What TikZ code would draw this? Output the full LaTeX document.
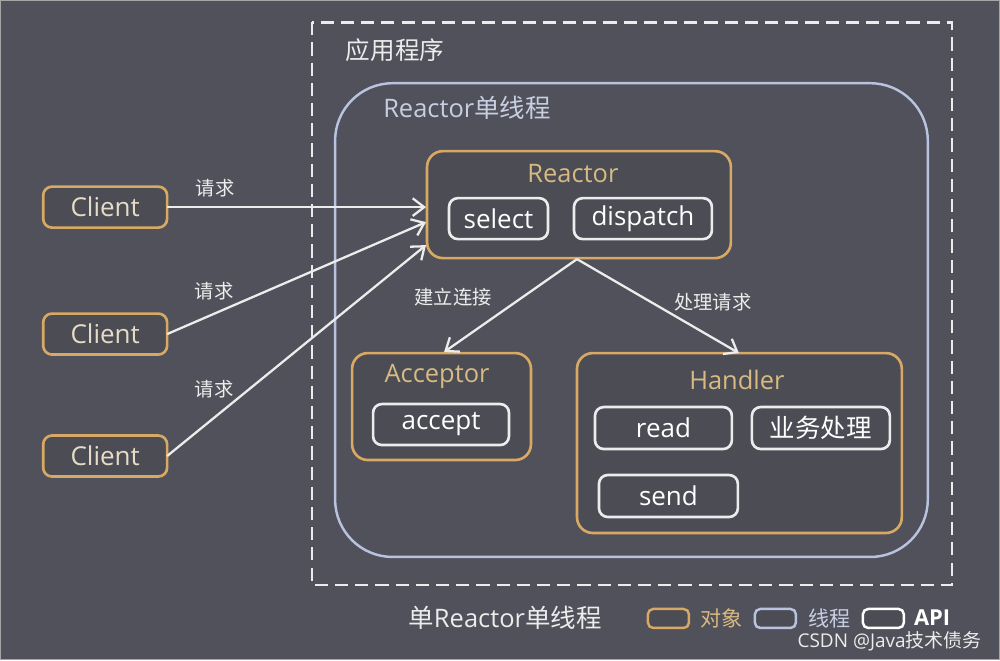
\documentclass[tikz,border=0pt]{standalone}
\usepackage{fontspec}
\setmainfont{Open Sans}
\newfontfamily\cjk{Noto Sans CJK SC}
\usetikzlibrary{arrows.meta}
\definecolor{bg}{HTML}{50515A}
\definecolor{boxfill}{HTML}{4B4C54}
\definecolor{orange}{HTML}{D8A964}
\definecolor{tan}{HTML}{D8BA82}
\definecolor{clienttext}{HTML}{E6DCC6}
\definecolor{thread}{HTML}{B9C3E0}
\definecolor{threadtext}{HTML}{C8CEE2}
\definecolor{soft}{HTML}{ECECEC}
\tikzset{
  objbox/.style={draw=orange, fill=boxfill, line width=1.5pt, rounded corners=9pt, outer sep=0pt, inner sep=0pt},
  apibox/.style={draw=soft, fill=boxfill, line width=1.5pt, rounded corners=5pt, outer sep=0pt, inner sep=0pt,
     text=white, font=\fontsize{14.8}{16}\selectfont},
  clientbox/.style={objbox, rounded corners=5pt, text=clienttext, font=\fontsize{14.8}{16}\selectfont},
  titletext/.style={text=tan, font=\fontsize{14.5}{16}\selectfont},
  conn/.style={draw=soft, line width=1.3pt, -{Straight Barb[length=6.5pt,width=10pt,line width=1.3pt]}},
  lbl/.style={text=soft, font=\cjk\fontsize{11}{13}\selectfont},
  legbox/.style={line width=1.4pt, rounded corners=3pt, minimum width=0.82cm, minimum height=0.38cm, inner sep=0pt, fill=boxfill},
  legtext/.style={font=\cjk\fontsize{12}{14}\selectfont}
}
\begin{document}
\begin{tikzpicture}[x=0.02cm,y=-0.02cm]
\fill[bg] (0,0) rectangle (1000,660);
\draw[gray!70, line width=0.8pt] (0.5,0.5) rectangle (999.5,659.5);
\useasboundingbox (0,0) rectangle (1000,660);

% application dashed frame
\draw[soft, line width=1.5pt, dash pattern=on 7.5pt off 4pt] (312,22) rectangle (952,585);
\node[text=soft, font=\cjk\fontsize{14}{16}\selectfont] (applbl) at (395,50) {应用程序};

% thread box
\node[draw=thread, line width=1.4pt, rounded corners=1.15cm, minimum width=11.86cm, minimum height=9.48cm] (thread) at (631.5,320) {};
\node[text=threadtext, font=\fontsize{14.5}{16}\selectfont, anchor=west] (threadlbl) at (377,108) {Reactor{\cjk 单线程}};

% reactor
\node[objbox, minimum width=6.08cm, minimum height=2.14cm] (reactor) at (579,204.5) {};
\node[titletext] (reactorlbl) at (573,173) {Reactor};
\node[apibox, minimum width=1.98cm, minimum height=0.82cm] (select) at (498.5,218.5) {select};
\node[apibox, minimum width=2.76cm, minimum height=0.82cm] (dispatch) at (643,218.5) {dispatch};

% acceptor
\node[objbox, minimum width=3.58cm, minimum height=2.14cm] (acceptor) at (441.5,406.5) {};
\node[titletext] (acceptorlbl) at (437,376) {Acceptor};
\node[apibox, minimum width=2.72cm, minimum height=0.82cm] (accept) at (441,424.5) {accept};

% handler
\node[objbox, minimum width=6.5cm, minimum height=3.6cm] (handler) at (739.5,443) {};
\node[titletext] (handlerlbl) at (737,380) {Handler};
\node[apibox, minimum width=2.74cm, minimum height=0.84cm] (read) at (663.5,428) {read};
\node[apibox, minimum width=2.76cm, minimum height=0.84cm, font=\cjk\fontsize{14.5}{16}\selectfont] (biz) at (821,428) {业务处理};
\node[apibox, minimum width=2.78cm, minimum height=0.84cm] (send) at (668.5,496) {send};

% clients
\node[clientbox, minimum width=2.48cm, minimum height=0.82cm] (c1) at (105,207) {Client};
\node[clientbox, minimum width=2.48cm, minimum height=0.82cm] (c2) at (105,334) {Client};
\node[clientbox, minimum width=2.48cm, minimum height=0.82cm] (c3) at (105,456) {Client};

\coordinate (r1) at (426,207);
\coordinate (r2) at (426,222);
\coordinate (r3) at (426,245);
\draw[conn] (c1.east) -- (r1);
\draw[conn] (c2.east) -- (r2);
\draw[conn] (c3.east) -- (r3);
\node[lbl] (q1) at (215,188) {请求};
\node[lbl] (q2) at (214,291) {请求};
\node[lbl] (q3) at (214,389) {请求};

\coordinate (rb) at (577,259);
\coordinate (at) at (444,352);
\coordinate (ht) at (739,353);
\draw[conn] (rb) -- (at);
\draw[conn] (rb) -- (ht);
\node[lbl] (l1) at (453,297) {建立连接};
\node[lbl] (l2) at (713,302) {处理请求};

% legend
\node[text=soft, font=\fontsize{14.5}{16}\selectfont] (caption) at (505,618) {{\cjk 单}Reactor{\cjk 单线程}};
\node[legbox, draw=orange] (lo) at (668.5,618.5) {};
\node[legtext, text=tan, anchor=west] (lot) at (694,618) {对象};
\node[legbox, draw=thread] (lb) at (775.5,618.5) {};
\node[legtext, text=threadtext, anchor=west] (lbt) at (802,618) {线程};
\node[legbox, draw=white] (lw) at (883.5,618.5) {};
\node[text=white, font=\bfseries\fontsize{12.5}{14}\selectfont, anchor=west] (lwt) at (908,618) {API};
\node[text=soft, font=\fontsize{10.8}{12}\selectfont, anchor=east] (wm) at (988,641) {CSDN @Java{\cjk 技术债务}};
\end{tikzpicture}
\end{document}
